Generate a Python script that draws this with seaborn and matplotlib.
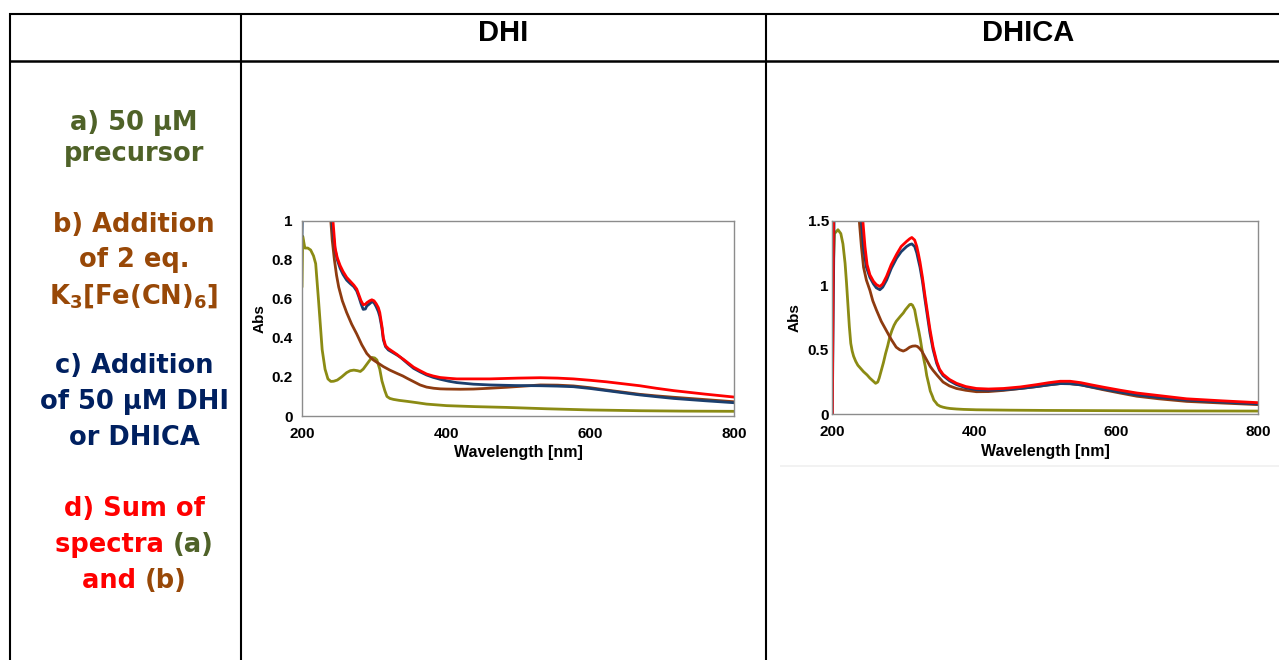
import numpy as np
import pandas as pd
import matplotlib
matplotlib.use("Agg")
import matplotlib.pyplot as plt
import seaborn as sns
from matplotlib.lines import Line2D
from matplotlib.ticker import MultipleLocator, FuncFormatter

# ---------------- data ----------------
# DHI panel
dhi_green_wl = [200, 201, 204, 208, 212, 216, 219, 223, 228, 232, 236, 240, 244, 249, 255, 262, 267, 272, 277, 281, 285, 289, 293, 297, 301, 304, 308, 311, 315, 318, 322, 327, 335, 346, 360, 373, 401, 440, 484, 540, 600, 670, 730, 800]
dhi_green    = [0.66, 0.92, 0.86, 0.86, 0.85, 0.82, 0.78, 0.59, 0.34, 0.24, 0.19, 0.177, 0.178, 0.184, 0.20, 0.222, 0.232, 0.235, 0.232, 0.228, 0.24, 0.26, 0.28, 0.30, 0.297, 0.287, 0.24, 0.18, 0.13, 0.10, 0.09, 0.085, 0.08, 0.075, 0.068, 0.061, 0.053, 0.048, 0.044, 0.037, 0.031, 0.027, 0.025, 0.024]

dhi_brown_wl = [238, 240, 242, 245, 248, 251, 256, 262, 269, 276, 283, 290, 295, 299, 306, 313, 322, 332, 340, 346, 355, 364, 373, 383, 392, 401, 420, 438, 460, 484, 508, 531, 555, 577, 600, 623, 646, 669, 692, 716, 760, 800]
dhi_brown    = [1.2, 1.0, 0.90, 0.80, 0.72, 0.66, 0.59, 0.53, 0.47, 0.42, 0.365, 0.32, 0.30, 0.287, 0.27, 0.253, 0.235, 0.218, 0.205, 0.193, 0.176, 0.159, 0.148, 0.142, 0.139, 0.138, 0.137, 0.138, 0.142, 0.147, 0.153, 0.159, 0.158, 0.154, 0.145, 0.133, 0.122, 0.111, 0.103, 0.096, 0.084, 0.073]

dhi_blue_wl = [200, 202, 239, 241.6, 244, 246, 249, 253, 257, 262, 267, 272, 276, 279, 282, 285, 288, 290, 294, 297, 300, 303, 306, 308, 311, 313, 316, 320, 326, 332, 337, 341, 348, 355, 364, 373, 382, 392, 404, 415, 438, 461, 496, 531, 555, 577, 600, 623, 646, 669, 692, 716, 760, 800]
dhi_blue    = [0.92, 1.4, 1.4, 1.0, 0.91, 0.85, 0.80, 0.756, 0.725, 0.696, 0.678, 0.662, 0.64, 0.61, 0.575, 0.546, 0.548, 0.563, 0.575, 0.585, 0.58, 0.56, 0.535, 0.51, 0.45, 0.39, 0.355, 0.338, 0.325, 0.312, 0.30, 0.287, 0.265, 0.244, 0.226, 0.210, 0.198, 0.188, 0.178, 0.171, 0.163, 0.159, 0.156, 0.155, 0.153, 0.150, 0.141, 0.13, 0.119, 0.108, 0.099, 0.09, 0.078, 0.068]

dhi_red_wl = [241, 243, 246, 249, 253, 257, 262, 267, 272, 276, 279, 282, 285, 288, 290, 294, 297, 300, 303, 306, 308, 311, 313, 316, 320, 326, 332, 337, 341, 348, 355, 364, 373, 382, 392, 404, 415, 438, 461, 500, 531, 555, 577, 600, 623, 646, 669, 692, 716, 760, 800]
dhi_red    = [1.2, 1.0, 0.86, 0.81, 0.77, 0.74, 0.71, 0.69, 0.67, 0.65, 0.62, 0.59, 0.57, 0.572, 0.58, 0.59, 0.595, 0.59, 0.575, 0.555, 0.53, 0.46, 0.40, 0.36, 0.345, 0.33, 0.315, 0.30, 0.29, 0.27, 0.25, 0.232, 0.215, 0.205, 0.197, 0.193, 0.19, 0.19, 0.19, 0.194, 0.196, 0.194, 0.19, 0.183, 0.175, 0.165, 0.155, 0.142, 0.13, 0.112, 0.097]

# DHICA panel
dhica_green_wl = [200, 203, 208, 212, 215, 218, 220, 222, 224, 226, 228, 230, 233, 236, 240, 244, 249, 253, 257, 261, 264, 266, 269, 272, 275, 278, 281, 284, 287, 290, 293, 296, 300, 303, 306, 309, 311, 313, 316, 319, 322, 324, 326, 328, 331, 333, 336, 338, 341, 343, 346, 348, 352, 356, 361, 366, 375, 385, 403, 450, 500, 600, 700, 800]
dhica_green    = [0.9, 1.40, 1.43, 1.40, 1.32, 1.17, 1.02, 0.85, 0.68, 0.55, 0.49, 0.45, 0.41, 0.38, 0.355, 0.33, 0.305, 0.28, 0.26, 0.24, 0.25, 0.28, 0.34, 0.40, 0.47, 0.53, 0.60, 0.65, 0.69, 0.72, 0.74, 0.76, 0.785, 0.81, 0.83, 0.85, 0.853, 0.845, 0.81, 0.72, 0.64, 0.58, 0.51, 0.45, 0.37, 0.30, 0.23, 0.18, 0.14, 0.11, 0.09, 0.075, 0.062, 0.055, 0.049, 0.045, 0.041, 0.038, 0.035, 0.032, 0.030, 0.028, 0.026, 0.025]

dhica_brown_wl = [236, 238, 241, 244, 248, 253, 257, 262, 269, 276, 283, 290, 295, 300, 304, 309, 313, 317, 320, 323, 326, 328, 331, 335, 338, 342, 348, 356, 365, 375, 388, 403, 420, 441, 465, 488, 505, 521, 535, 550, 565, 582, 605, 629, 660, 699, 750, 800]
dhica_brown    = [1.7, 1.5, 1.3, 1.14, 1.04, 0.96, 0.88, 0.81, 0.72, 0.65, 0.58, 0.52, 0.50, 0.49, 0.50, 0.52, 0.528, 0.53, 0.525, 0.51, 0.49, 0.47, 0.44, 0.40, 0.37, 0.34, 0.30, 0.25, 0.22, 0.20, 0.186, 0.175, 0.176, 0.185, 0.20, 0.215, 0.228, 0.238, 0.237, 0.228, 0.21, 0.19, 0.165, 0.14, 0.12, 0.10, 0.087, 0.075]

dhica_blue_wl = [200, 203, 239, 241, 244, 248, 253, 258, 262, 267, 271, 276.5, 283, 290.6, 297, 304.7, 309, 312, 316, 319, 321, 323.5, 327, 330.5, 334, 337.5, 342, 347, 351, 356, 365, 375, 388, 403, 420, 441, 465, 488, 505, 521, 535, 550, 565, 582, 605, 629, 660, 699, 750, 800]
dhica_blue    = [0.0, 1.8, 1.8, 1.5, 1.29, 1.14, 1.06, 1.01, 0.98, 0.965, 0.985, 1.04, 1.13, 1.21, 1.26, 1.30, 1.315, 1.32, 1.30, 1.25, 1.20, 1.14, 1.03, 0.89, 0.76, 0.63, 0.50, 0.395, 0.34, 0.30, 0.26, 0.23, 0.205, 0.19, 0.186, 0.19, 0.20, 0.215, 0.228, 0.238, 0.237, 0.228, 0.212, 0.195, 0.172, 0.15, 0.13, 0.11, 0.094, 0.08]

dhica_red_wl = [200, 202, 240, 243, 246, 249, 253, 258, 262, 267, 271, 276.5, 283, 290.6, 297, 304.7, 309, 312, 316, 319, 321, 323.5, 327, 330.5, 334, 337.5, 342, 347, 351, 356, 365, 375, 388, 403, 420, 441, 465, 488, 505, 521, 535, 550, 565, 582, 605, 629, 660, 699, 750, 800]
dhica_red    = [0.0, 1.8, 1.8, 1.5, 1.30, 1.16, 1.08, 1.03, 1.005, 0.99, 1.01, 1.07, 1.16, 1.24, 1.30, 1.34, 1.36, 1.37, 1.35, 1.30, 1.25, 1.18, 1.06, 0.92, 0.79, 0.66, 0.52, 0.41, 0.35, 0.31, 0.27, 0.24, 0.215, 0.20, 0.196, 0.20, 0.212, 0.23, 0.245, 0.256, 0.256, 0.245, 0.228, 0.21, 0.187, 0.165, 0.145, 0.12, 0.104, 0.09]

headers = ["DHI", "DHICA"]

C_GREEN = "#8b8b14"
C_BROWN = "#8e3b10"
C_BLUE = "#1b3f6e"
C_RED = "#ff0000"

T_GREEN = "#4f6228"
T_BROWN = "#984807"
T_NAVY = "#002060"
T_RED = "#ff0000"

# ---------------- style ----------------
sns.set_style("white")
plt.rcParams['font.family'] = ['Liberation Sans', 'DejaVu Sans']
plt.rcParams['font.weight'] = 'bold'
plt.rcParams['axes.labelweight'] = 'bold'
plt.rcParams['text.color'] = 'black'
plt.rcParams['axes.labelcolor'] = 'black'
plt.rcParams['xtick.color'] = 'black'
plt.rcParams['ytick.color'] = 'black'
plt.rcParams['mathtext.fontset'] = 'custom'
plt.rcParams['mathtext.rm'] = 'DejaVu Sans:bold'
plt.rcParams['mathtext.it'] = 'DejaVu Sans:bold'
plt.rcParams['mathtext.bf'] = 'DejaVu Sans:bold'

W, H = 1279, 660
fig = plt.figure(figsize=(W / 100, H / 100), dpi=100)


def fx(px):
    return px / W


def fy(py):
    return 1 - py / H


# ---------------- table lines ----------------
def hline(y, x0, x1, lw=1.5, color="black"):
    fig.add_artist(Line2D([fx(x0), fx(x1)], [fy(y), fy(y)], transform=fig.transFigure,
                          color=color, lw=lw, solid_capstyle="butt"))


def vline(x, y0, y1, lw=1.5, color="black"):
    fig.add_artist(Line2D([fx(x), fx(x)], [fy(y0), fy(y1)], transform=fig.transFigure,
                          color=color, lw=lw, solid_capstyle="butt"))


hline(13.5, 9, W)
hline(61, 9, W, lw=1.8)
vline(10, 12.5, H)
vline(241, 12.5, H)
vline(766, 12.5, H)
hline(465.5, 780, W, lw=1.2, color="#f0f0f0")

fig.text(fx(503), fy(33), headers[0], ha="center", va="center", fontsize=21,
         fontweight="bold", color="black")
fig.text(fx(1028), fy(33), headers[1], ha="center", va="center", fontsize=21,
         fontweight="bold", color="black")

# ---------------- left column legend text ----------------
left_lines = [
    ([("a) 50 \u03bcM", T_GREEN)], 130),
    ([("precursor", T_GREEN)], 161),
    ([("b) Addition", T_BROWN)], 232),
    ([("of 2 eq.", T_BROWN)], 267),
    ([(r"K$_{\mathrm{3}}$[Fe(CN)$_{\mathrm{6}}$]", T_BROWN)], 303),
    ([("c) Addition", T_NAVY)], 373),
    ([("of 50 \u03bcM DHI", T_NAVY)], 409),
    ([("or DHICA", T_NAVY)], 445),
    ([("d) Sum of", T_RED)], 516),
    ([("spectra ", T_RED), ("(a)", T_GREEN)], 552),
    ([("and ", T_RED), ("(b)", T_BROWN)], 588),
]
LEFT_CX = 134
LFS = 18.5
renderer = fig.canvas.get_renderer()
for parts, base in left_lines:
    texts = []
    for s, c in parts:
        t = fig.text(0, fy(base), s, color=c, fontsize=LFS, fontweight="bold",
                     family=["DejaVu Sans"], ha="left", va="baseline")
        texts.append(t)
    widths = [t.get_window_extent(renderer=renderer).width for t in texts]
    total = sum(widths)
    x = LEFT_CX - total / 2
    for t, w in zip(texts, widths):
        t.set_x(fx(x))
        x += w

# ---------------- panels ----------------
def panel(rect, series, ymax, ymajor, yminor, ypad):
    ax = fig.add_axes(rect)
    for wl, ab, col in series:
        df = pd.DataFrame({"wl": wl, "abs": ab})
        sns.lineplot(data=df, x="wl", y="abs", color=col, lw=2.0, ax=ax,
                     estimator=None, sort=False)
    ax.set_xlim(200, 800)
    ax.set_ylim(0, ymax)
    ax.xaxis.set_major_locator(MultipleLocator(200))
    ax.xaxis.set_minor_locator(MultipleLocator(100))
    ax.yaxis.set_major_locator(MultipleLocator(ymajor))
    ax.yaxis.set_minor_locator(MultipleLocator(yminor))
    ax.yaxis.set_major_formatter(FuncFormatter(lambda v, p: f"{v:g}"))
    ax.xaxis.set_major_formatter(FuncFormatter(lambda v, p: f"{v:g}"))
    for sp in ax.spines.values():
        sp.set_color("#8c8c8c")
        sp.set_linewidth(1.0)
    ax.tick_params(axis="both", which="both", direction="in", color="#8c8c8c",
                   width=0.8, labelcolor="black")
    ax.tick_params(axis="both", which="major", length=4, labelsize=11)
    ax.tick_params(axis="both", which="minor", length=3)
    ax.tick_params(axis="x", which="major", pad=8)
    ax.tick_params(axis="y", which="major", pad=ypad)
    for lab in ax.get_xticklabels() + ax.get_yticklabels():
        lab.set_fontweight("bold")
    ax.set_xlabel("Wavelength [nm]", fontsize=11.5, fontweight="bold", labelpad=3, color="black")
    ax.set_ylabel("Abs", fontsize=11, fontweight="bold", labelpad=4, color="black")
    return ax


panel([fx(302), fy(416), fx(734) - fx(302), fy(220.7) - fy(416)],
      [(dhi_green_wl, dhi_green, C_GREEN),
       (dhi_brown_wl, dhi_brown, C_BROWN),
       (dhi_blue_wl, dhi_blue, C_BLUE),
       (dhi_red_wl, dhi_red, C_RED)],
      1.0, 0.2, 0.1, 6.5)

panel([fx(832.3), fy(414.3), fx(1258.3) - fx(832.3), fy(220.7) - fy(414.3)],
      [(dhica_green_wl, dhica_green, C_GREEN),
       (dhica_brown_wl, dhica_brown, C_BROWN),
       (dhica_blue_wl, dhica_blue, C_BLUE),
       (dhica_red_wl, dhica_red, C_RED)],
      1.5, 0.5, 0.25, 2.5)

fig.savefig("out.png", dpi=100)
